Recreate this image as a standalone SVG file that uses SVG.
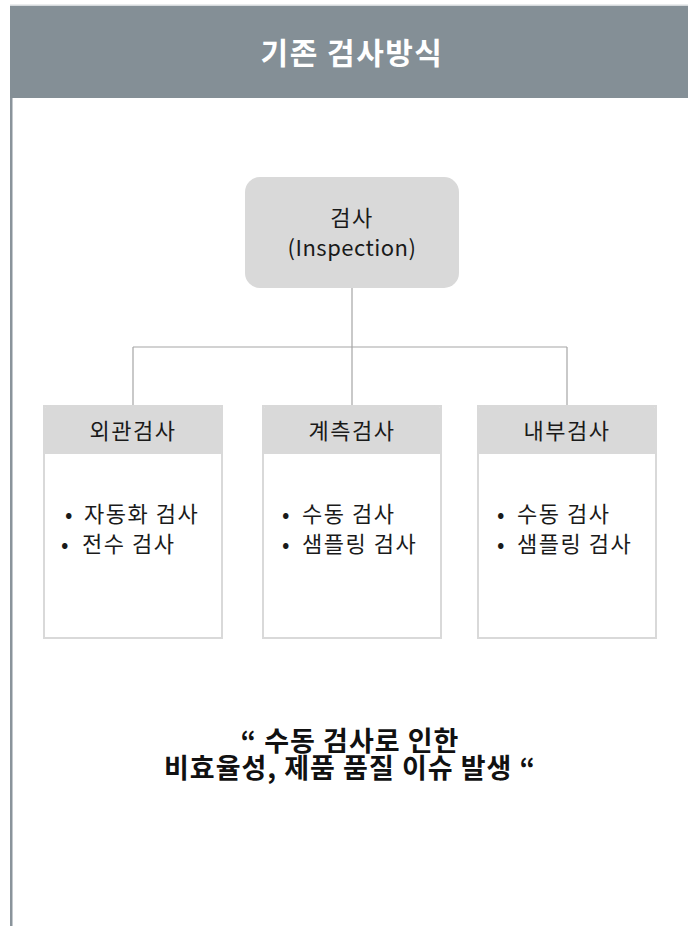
<svg xmlns="http://www.w3.org/2000/svg" width="688" height="926" viewBox="0 0 688 926">
<style>
.t{font-family:"Noto Sans CJK KR","Noto Sans",sans-serif;fill:#1a1a1a;font-size:22px}
.k{letter-spacing:1.5px}
.hd{fill:#d9d9d9}
.bx{fill:#ffffff;stroke:#d9d9d9;stroke-width:2}
.cn{fill:none;stroke:#a6a6a6;stroke-width:1.2}
.b{font-family:"Noto Sans CJK KR",sans-serif;font-weight:bold;fill:#111111;font-size:27px;letter-spacing:1px}
</style>
<rect x="0" y="0" width="688" height="926" fill="#ffffff"/>
<g id="header">
<rect x="10" y="4.5" width="678" height="1.5" fill="#d5d9dc"/>
<rect x="10" y="6" width="678" height="92" fill="#848f96"/>
<rect x="10" y="98" width="2.5" height="828" fill="#8a949b"/>
<text x="352" y="64" text-anchor="middle" font-family="Noto Sans CJK KR, sans-serif" font-weight="bold" font-size="30" letter-spacing="1.5" fill="#ffffff">기존 검사방식</text>
</g>
<g id="connectors">
<path class="cn" d="M352 288 V347 M133 347 H567 M133 347 V405 M352 347 V405 M567 347 V405"/>
</g>
<g id="root">
<rect x="245" y="177" width="214" height="111" rx="15" class="hd"/>
<text class="t k" x="352" y="226" text-anchor="middle">검사</text>
<text class="t" x="352" y="256" text-anchor="middle" letter-spacing="0.5">(Inspection)</text>
</g>
<g id="box1">
<rect class="bx" x="44" y="406" width="178" height="232"/>
<path class="hd" d="M43 454 V413 a8 8 0 0 1 8 -8 H215 a8 8 0 0 1 8 8 V454 Z"/>
<text class="t k" x="133" y="439" text-anchor="middle">외관검사</text>
<text class="t k" x="65" y="522">•<tspan x="84">자동화 검사</tspan></text>
<text class="t k" x="61" y="552">•<tspan x="82">전수 검사</tspan></text>
</g>
<g id="box2">
<rect class="bx" x="263" y="406" width="178" height="232"/>
<path class="hd" d="M262 454 V413 a8 8 0 0 1 8 -8 H434 a8 8 0 0 1 8 8 V454 Z"/>
<text class="t k" x="352" y="439" text-anchor="middle">계측검사</text>
<text class="t k" x="282" y="522">•<tspan x="302">수동 검사</tspan></text>
<text class="t k" x="282" y="552">•<tspan x="302">샘플링 검사</tspan></text>
</g>
<g id="box3">
<rect class="bx" x="478" y="406" width="178" height="232"/>
<path class="hd" d="M477 454 V413 a8 8 0 0 1 8 -8 H649 a8 8 0 0 1 8 8 V454 Z"/>
<text class="t k" x="567" y="439" text-anchor="middle">내부검사</text>
<text class="t k" x="497" y="522">•<tspan x="517">수동 검사</tspan></text>
<text class="t k" x="497" y="552">•<tspan x="517">샘플링 검사</tspan></text>
</g>
<g id="summary">
<text class="b" x="350" y="751" text-anchor="middle">“ 수동 검사로 인한</text>
<text class="b" x="350" y="778" text-anchor="middle">비효율성, 제품 품질 이슈 발생 “</text>
</g>
</svg>
